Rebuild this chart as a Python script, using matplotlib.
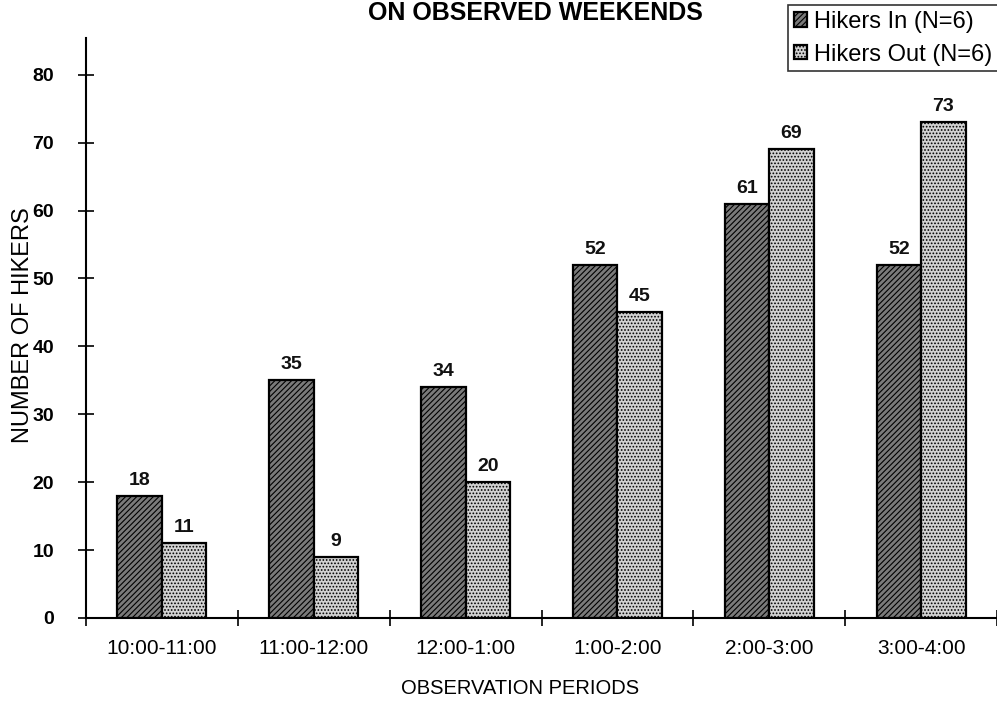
import matplotlib
matplotlib.use("Agg")
import matplotlib.pyplot as plt
import numpy as np

plt.rcParams['font.family'] = ['Liberation Sans', 'DejaVu Sans']
plt.rcParams['hatch.linewidth'] = 0.8

periods = ["10:00-11:00", "11:00-12:00", "12:00-1:00", "1:00-2:00", "2:00-3:00", "3:00-4:00"]
hikers_in = [18, 35, 34, 52, 61, 52]
hikers_out = [11, 9, 20, 45, 69, 73]
yticks = [0, 10, 20, 30, 40, 50, 60, 70, 80]

W, H = 997, 702
fig = plt.figure(figsize=(W / 100, H / 100), dpi=100)
left, right, bottom, top = 86, 997, 618, 38
ax = fig.add_axes([left / W, 1 - bottom / H, (right - left) / W, (bottom - top) / H])

x = np.arange(len(periods))
bw = 0.293
b1 = ax.bar(x - bw / 2, hikers_in, bw, facecolor='#7a7a7a', edgecolor='black',
            hatch='//////', linewidth=1.6, label='Hikers In (N=6)')
b2 = ax.bar(x + bw / 2, hikers_out, bw, facecolor='#d2d2d2', edgecolor='black',
            hatch='.....', linewidth=1.6, label='Hikers Out (N=6)')

for rects, vals in ((b1, hikers_in), (b2, hikers_out)):
    for r, v in zip(rects, vals):
        ax.annotate(str(v), (r.get_x() + r.get_width() / 2, v), xytext=(0, 5),
                    textcoords='offset points', ha='center', va='bottom',
                    fontsize=14, fontweight='bold', color='#111111')

ax.set_xlim(-0.49, 5.45)
ax.set_ylim(0, 85.4)
ax.set_yticks(yticks)
ax.set_yticklabels([str(t) for t in yticks], fontsize=14, fontweight='bold')
ax.set_xticks(np.arange(len(periods) + 1) - 0.5, minor=True)
ax.set_xticks(x)
ax.set_xticklabels(periods, fontsize=15)
ax.tick_params(axis='x', which='major', length=0, pad=15)
ax.tick_params(axis='x', which='minor', direction='inout', length=12, width=1.2)
ax.tick_params(axis='y', direction='inout', length=12, width=1.2, pad=17)

for s in ('top', 'right'):
    ax.spines[s].set_visible(False)
ax.spines['left'].set_linewidth(1.5)
ax.spines['bottom'].set_linewidth(1.5)

fig.text(23 / W, 1 - 325 / H, 'NUMBER OF HIKERS', rotation=90, ha='center', va='center',
         fontsize=17)
fig.text(520 / W, 1 - 688 / H, 'OBSERVATION PERIODS', ha='center', va='center',
         fontsize=14.5)

fig.text(535 / W, 1 - 13 / H, 'ON OBSERVED WEEKENDS', ha='center', va='center',
         fontsize=18, fontweight='bold')

leg = fig.legend(handles=[b1, b2], loc='upper left', bbox_to_anchor=(788 / W, 1 - 5 / H),
                 fontsize=17, frameon=True, fancybox=False, edgecolor='black',
                 handlelength=0.55, handleheight=0.55, handletextpad=0.3,
                 borderpad=0.25, labelspacing=0.45, borderaxespad=0)
leg.get_frame().set_linewidth(1.2)

fig.savefig('out.png', dpi=100)
